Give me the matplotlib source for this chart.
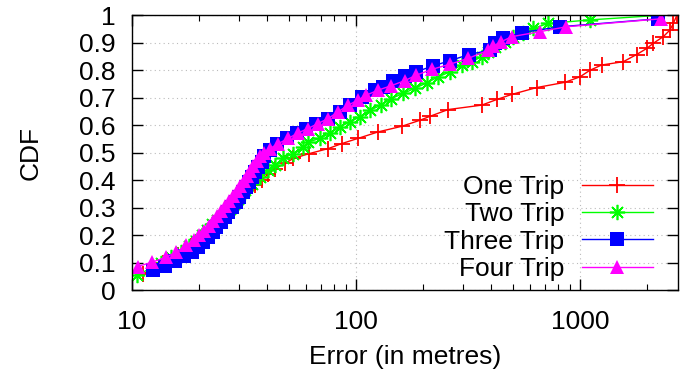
import matplotlib
matplotlib.use("Agg")
import matplotlib.pyplot as plt
from matplotlib.ticker import FixedLocator, NullFormatter, LogLocator

plt.rcParams['font.family'] = ['Liberation Sans', 'DejaVu Sans']

# ---- data ----
one_x = [11.2, 13.8, 16.0, 18.3, 20.3, 22.3, 24.3, 26.0, 27.7, 28.5, 29.5, 30.9, 33.1, 35.4,
         37.9, 40.6, 43.5, 48.2, 52.5, 62.0, 75.2, 86.3, 102, 126, 160, 193, 215, 258, 364,
         427, 496, 641, 857, 1000, 1109, 1250, 1561, 1790, 1985, 2125, 2354, 2521, 2610, 2705]
one_y = [0.060, 0.100, 0.130, 0.160, 0.190, 0.220, 0.245, 0.265, 0.285, 0.300, 0.322, 0.340,
         0.364, 0.382, 0.400, 0.425, 0.443, 0.462, 0.480, 0.498, 0.516, 0.534, 0.553, 0.577,
         0.597, 0.619, 0.634, 0.658, 0.674, 0.695, 0.713, 0.738, 0.757, 0.777, 0.801, 0.820,
         0.832, 0.858, 0.880, 0.899, 0.923, 0.947, 0.971, 1.000]

two_x = [10.5, 13.5, 15.0, 16.6, 18.0, 19.3, 20.5, 21.6, 22.8, 24.0, 25.2, 26.5, 27.5, 28.0,
         28.5, 29.8, 31.9, 34.2, 37.3, 40.6, 43.5, 47.3, 52.5, 58.2, 61.3, 69, 76.5, 84.8, 94,
         104, 115.5, 130, 144, 163, 183, 207, 233, 263, 296, 328, 364, 390, 418, 463, 504, 558,
         619, 722, 1109, 2200]
two_y = [0.055, 0.100, 0.120, 0.140, 0.160, 0.180, 0.200, 0.220, 0.240, 0.258, 0.272, 0.285,
         0.298, 0.305, 0.315, 0.334, 0.364, 0.389, 0.413, 0.437, 0.455, 0.480, 0.498, 0.522,
         0.540, 0.553, 0.571, 0.595, 0.613, 0.631, 0.656, 0.674, 0.698, 0.717, 0.735, 0.755,
         0.777, 0.795, 0.820, 0.832, 0.850, 0.868, 0.886, 0.905, 0.923, 0.935, 0.953, 0.971,
         0.984, 1.000]

three_x = [12.4, 14.1, 15.6, 17.1, 18.5, 19.7, 20.8, 21.8, 23.0, 23.8, 25.0, 25.9, 26.8, 28.0,
           29.0, 30.2, 31.3, 32.3, 33.3, 34.3, 35.4, 36.6, 38.0, 39.0, 41.5, 44.3, 49, 54.3, 60,
           66.5, 75, 84.8, 94, 106, 122, 132, 147, 165, 185, 220, 263, 320, 396, 418, 455, 549,
           815, 2239]
three_y = [0.075, 0.089, 0.109, 0.124, 0.140, 0.158, 0.176, 0.194, 0.212, 0.231, 0.249, 0.267,
           0.285, 0.303, 0.322, 0.340, 0.358, 0.376, 0.394, 0.412, 0.431, 0.449, 0.467, 0.490,
           0.510, 0.534, 0.553, 0.571, 0.589, 0.607, 0.625, 0.650, 0.674, 0.704, 0.729, 0.741,
           0.763, 0.780, 0.795, 0.816, 0.836, 0.858, 0.874, 0.899, 0.917, 0.938, 0.959, 0.988]

four_x = [10.6, 12.3, 14.2, 15.8, 17.5, 19.0, 20.0, 21.0, 22.0, 23.0, 24.0, 25.0, 26.0, 27.0,
          28.2, 29.3, 30.4, 31.5, 32.6, 33.7, 34.8, 36.0, 37.3, 39.0, 41.3, 45, 49.8, 55.2, 61,
          67.6, 75, 83.3, 92.3, 102, 111, 126, 144, 165, 186, 218, 263, 317, 390, 410, 446, 496,
          660, 870, 2300]
four_y = [0.087, 0.103, 0.121, 0.140, 0.164, 0.182, 0.200, 0.218, 0.236, 0.254, 0.272, 0.290,
          0.308, 0.326, 0.344, 0.362, 0.380, 0.398, 0.416, 0.434, 0.452, 0.470, 0.488, 0.500,
          0.516, 0.534, 0.553, 0.573, 0.589, 0.607, 0.625, 0.650, 0.674, 0.692, 0.710, 0.729,
          0.745, 0.763, 0.783, 0.804, 0.823, 0.844, 0.874, 0.889, 0.905, 0.923, 0.941, 0.959,
          0.988]

labels = ["One Trip", "Two Trip", "Three Trip", "Four Trip"]
y_ticks = [0, 0.1, 0.2, 0.3, 0.4, 0.5, 0.6, 0.7, 0.8, 0.9, 1.0]
y_tick_labels = ["0", "0.1", "0.2", "0.3", "0.4", "0.5", "0.6", "0.7", "0.8", "0.9", "1"]
x_ticks = [10, 100, 1000]
x_tick_labels = ["10", "100", "1000"]

# ---- figure ----
fig = plt.figure(figsize=(6.8, 3.78), dpi=100)
ax = fig.add_axes([0.194, 0.2315, 0.803, 0.7275])

FS = 19
ax.plot(one_x, one_y, color='#ff0000', lw=1.0, marker='+', ms=11, mew=1.3, label=labels[0])
ax.plot(two_x, two_y, color='#00ff00', lw=1.0, marker=(8, 2, 0), ms=11, mew=1.2, label=labels[1])
ax.plot(three_x, three_y, color='#0000ff', lw=1.0, marker='s', ms=10.5, mew=0, label=labels[2])
ax.plot(four_x, four_y, color='#ff00ff', lw=1.0, marker='^', ms=10, mew=0, label=labels[3])

ax.set_xscale('log')
ax.set_xlim(10, 2738)
ax.set_ylim(0, 1)

ax.xaxis.set_major_locator(FixedLocator(x_ticks))
ax.set_xticklabels(x_tick_labels)
ax.xaxis.set_minor_locator(LogLocator(base=10, subs=range(2, 10)))
ax.xaxis.set_minor_formatter(NullFormatter())
ax.set_yticks(y_ticks)
ax.set_yticklabels(y_tick_labels)

ax.tick_params(which='major', direction='in', length=8, width=1, top=True, right=True,
               labelsize=FS)
ax.tick_params(axis='x', which='major', pad=14)
ax.tick_params(axis='y', which='major', pad=12)
ax.tick_params(which='minor', direction='in', length=4, width=0.8, top=True, right=True)
for s in ax.spines.values():
    s.set_linewidth(1.0)

ax.grid(True, which='major', color='#bbbbbb', linestyle=(0, (1, 3)), linewidth=0.8)
ax.set_axisbelow(True)

ax.set_xlabel("Error (in metres)", fontsize=FS, labelpad=8)
ax.set_ylabel("CDF", fontsize=FS, labelpad=26)

leg = ax.legend(loc='center right', bbox_to_anchor=(0.954, 0.227), markerfirst=False,
                frameon=False, fontsize=FS, handlelength=2.7, handletextpad=0.65,
                labelspacing=0.12, borderpad=0, borderaxespad=0)

fig.savefig("out.png", dpi=100)
